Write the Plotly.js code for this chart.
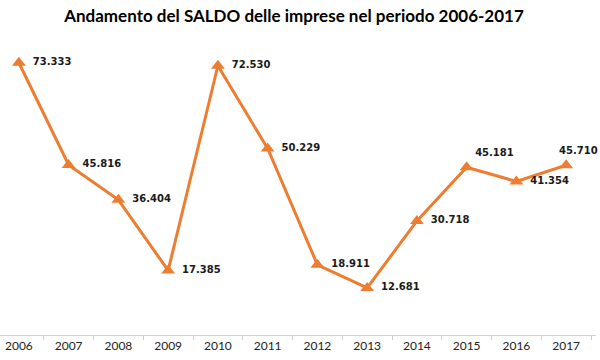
<!DOCTYPE html>
<html>
<head>
<meta charset="utf-8">
<script src="https://cdn.plot.ly/plotly-3.0.1.min.js"></script>
<style>html,body{margin:0;padding:0;background:#fff;}#chart{width:600px;height:360px;}</style>
</head>
<body>
<div id="chart"></div>
<script>
const years = ['2006','2007','2008','2009','2010','2011','2012','2013','2014','2015','2016','2017'];
const saldo = [73333, 45816, 36404, 17385, 72530, 50229, 18911, 12681, 30718, 45181, 41354, 45710];
const labelPlacement = ['middle right','middle right','middle right','middle right','middle right','middle right','middle right','middle right','middle right','top right','middle right','top center'];

const pad = ' \u2009';
const templates = labelPlacement.map(function (p, i) {
  if (p === 'middle right') return pad + '%{y:,.0f}';
  if (i === labelPlacement.length - 1) return '\u00a0\u00a0\u00a0\u00a0\u00a0\u00a0\u00a0%{y:,.0f}';
  return '%{y:,.0f}';
});

const trace = {
  x: years,
  y: saldo,
  type: 'scatter',
  mode: 'lines+markers+text',
  line: {color: '#ED7D31', width: 3},
  marker: {symbol: 'triangle-up', size: 12, color: '#ED7D31'},
  texttemplate: templates,
  textposition: labelPlacement,
  textfont: {family: 'DejaVu Sans', size: 10, color: '#1a1a1a', weight: 'bold'},
  cliponaxis: false,
  hoverinfo: 'skip'
};

const layout = {
  width: 600, height: 360,
  separators: ',.',
  margin: {l: 0, r: 4, t: 38, b: 25},
  paper_bgcolor: '#ffffff',
  plot_bgcolor: '#ffffff',
  showlegend: false,
  title: {
    text: '<b>Andamento del SALDO delle imprese nel periodo 2006-2017</b>',
    x: 0.49, xanchor: 'center', y: 0.955, yanchor: 'middle',
    font: {family: 'Lato', size: 17, color: '#000000'}
  },
  xaxis: {
    type: 'category',
    range: [-0.38, 11.6],
    showline: true, linecolor: '#d0d0d0', linewidth: 1,
    ticks: 'outside', tickson: 'boundaries', ticklen: 4, tickcolor: '#d0d0d0',
    showgrid: false, zeroline: false,
    tickfont: {family: 'Lato', size: 12, color: '#222222'}
  },
  yaxis: {
    range: [0, 80000],
    visible: false,
    showgrid: false, zeroline: false
  }
};

Plotly.newPlot('chart', [trace], layout, {displayModeBar: false, staticPlot: true});
</script>
</body>
</html>
